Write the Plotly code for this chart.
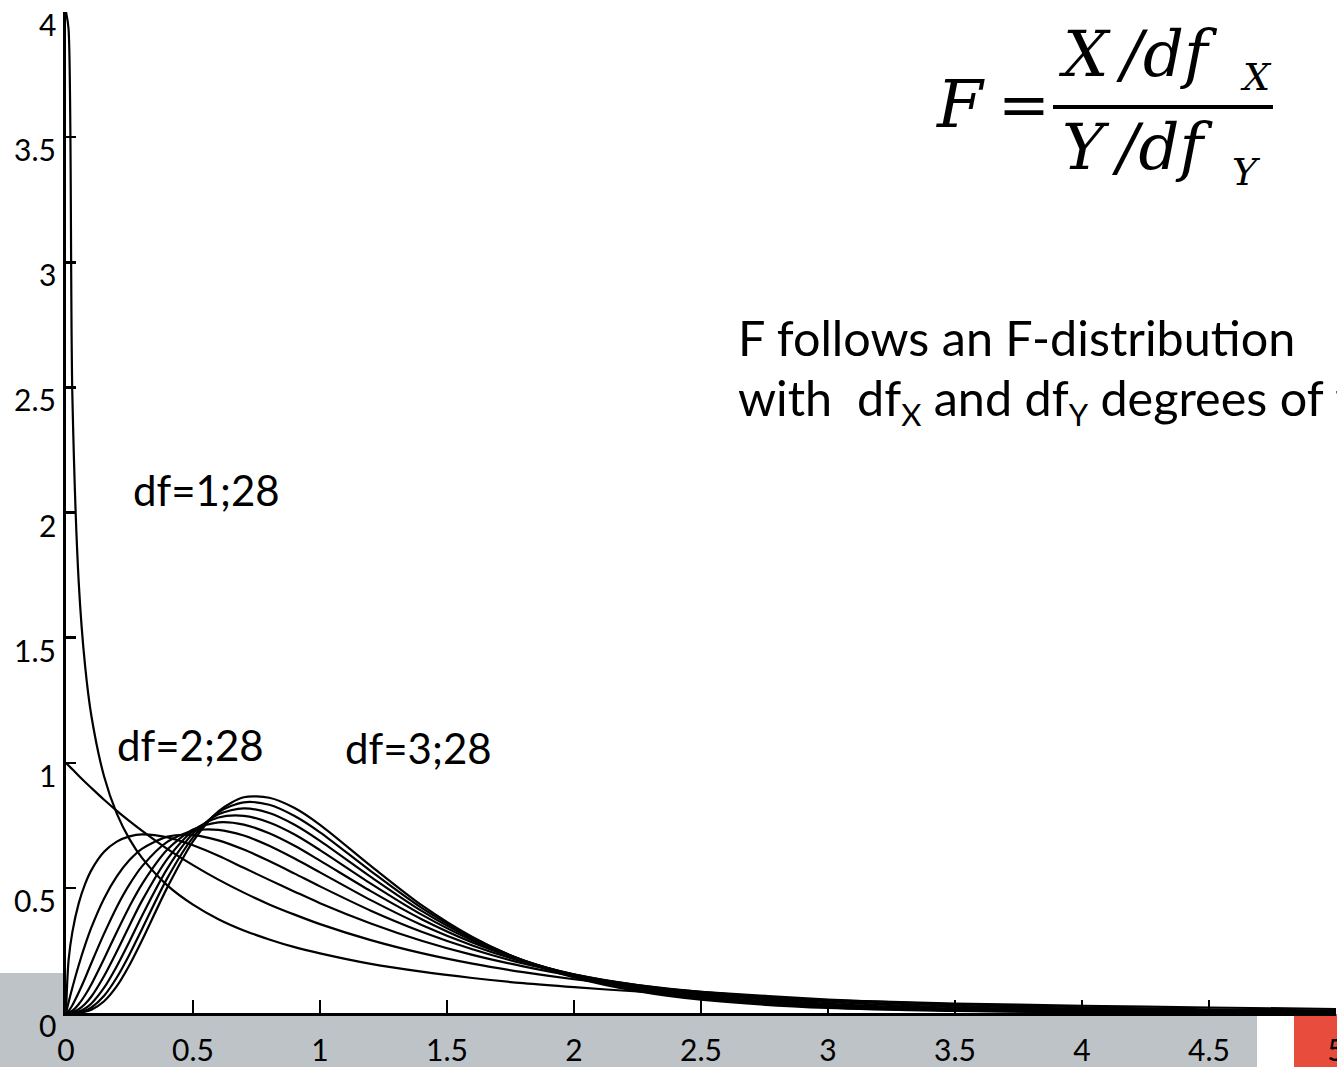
import plotly.graph_objects as go

# ---------------- data (F-distribution densities, df2 = 28) ----------------
X = [0, 0.01, 0.025, 0.05, 0.075, 0.1, 0.15, 0.2, 0.25, 0.3, 0.4, 0.5, 0.6, 0.7,
     0.8, 0.9, 1.0, 1.2, 1.4, 1.6, 1.8, 2.0, 2.25, 2.5, 3.0, 3.5, 4.0, 4.5, 5.0]

df1 = [4.0, 3.933, 2.469, 1.723, 1.389, 1.187, 0.945, 0.797, 0.695, 0.619, 0.509, 0.433, 0.375, 0.330,
       0.294, 0.263, 0.238, 0.196, 0.165, 0.140, 0.119, 0.103, 0.086, 0.072, 0.052, 0.038, 0.029, 0.022, 0.016]
df2 = [1.0, 0.989, 0.974, 0.948, 0.923, 0.899, 0.852, 0.808, 0.767, 0.728, 0.655, 0.591, 0.533, 0.481,
       0.434, 0.393, 0.355, 0.291, 0.239, 0.197, 0.163, 0.135, 0.107, 0.085, 0.054, 0.035, 0.023, 0.015, 0.010]
df3 = [0, 0.209, 0.323, 0.438, 0.515, 0.571, 0.644, 0.685, 0.706, 0.714, 0.702, 0.670, 0.628, 0.580,
       0.532, 0.485, 0.439, 0.358, 0.289, 0.232, 0.186, 0.148, 0.112, 0.085, 0.049, 0.029, 0.017, 0.010, 0.006]
df4 = [0, 0.042, 0.101, 0.191, 0.271, 0.342, 0.458, 0.546, 0.611, 0.657, 0.705, 0.711, 0.690, 0.653,
       0.607, 0.557, 0.506, 0.409, 0.325, 0.255, 0.198, 0.154, 0.112, 0.081, 0.043, 0.023, 0.012, 0.007, 0.004]
df5 = [0, 0.008, 0.031, 0.082, 0.139, 0.200, 0.317, 0.424, 0.514, 0.587, 0.685, 0.728, 0.732, 0.709,
       0.668, 0.617, 0.562, 0.451, 0.352, 0.270, 0.205, 0.155, 0.108, 0.076, 0.037, 0.018, 0.009, 0.005, 0.003]
df6 = [0, 0.002, 0.009, 0.035, 0.071, 0.115, 0.217, 0.324, 0.426, 0.516, 0.654, 0.733, 0.762, 0.753,
       0.718, 0.668, 0.609, 0.487, 0.375, 0.282, 0.209, 0.154, 0.104, 0.070, 0.032, 0.015, 0.007, 0.004, 0.002]
df7 = [0, 0.0003, 0.003, 0.015, 0.036, 0.066, 0.148, 0.246, 0.350, 0.450, 0.617, 0.728, 0.781, 0.788,
       0.761, 0.713, 0.651, 0.517, 0.393, 0.290, 0.211, 0.152, 0.100, 0.065, 0.028, 0.012, 0.006, 0.003, 0.001]
df8 = [0, 0.0001, 0.001, 0.006, 0.018, 0.038, 0.101, 0.187, 0.286, 0.390, 0.579, 0.717, 0.794, 0.818,
       0.799, 0.752, 0.688, 0.544, 0.408, 0.296, 0.211, 0.149, 0.095, 0.061, 0.025, 0.010, 0.005, 0.002, 0.001]
df9 = [0, 0, 0.0003, 0.003, 0.009, 0.022, 0.069, 0.142, 0.234, 0.337, 0.541, 0.702, 0.802, 0.842,
       0.832, 0.787, 0.722, 0.567, 0.420, 0.301, 0.210, 0.146, 0.091, 0.057, 0.022, 0.009, 0.004, 0.002, 0.001]
df10 = [0, 0, 0.0001, 0.001, 0.005, 0.013, 0.047, 0.107, 0.192, 0.292, 0.504, 0.686, 0.806, 0.862,
        0.860, 0.819, 0.752, 0.588, 0.431, 0.304, 0.209, 0.142, 0.087, 0.053, 0.020, 0.008, 0.003, 0.001, 0.001]

series_names = ["df=1;28", "df=2;28", "df=3;28", "df=4;28", "df=5;28",
                "df=6;28", "df=7;28", "df=8;28", "df=9;28", "df=10;28"]
series_values = [df1, df2, df3, df4, df5, df6, df7, df8, df9, df10]

x_tick_vals = [0, 0.5, 1, 1.5, 2, 2.5, 3, 3.5, 4, 4.5, 5]
x_tick_text = ["0", "0.5", "1", "1.5", "2", "2.5", "3", "3.5", "4", "4.5", "5"]
y_tick_vals = [0, 0.5, 1, 1.5, 2, 2.5, 3, 3.5, 4]
y_tick_text = ["0", "0.5", "1", "1.5", "2", "2.5", "3", "3.5", "4"]

curve_labels = ["df=1;28", "df=2;28", "df=3;28"]
text_line1 = "F follows an F-distribution"
text_line2 = ("with\u00a0\u00a0df<sub><span style='font-size:31px'>X</span></sub> and "
              "df<sub><span style='font-size:31px'>Y</span></sub> degrees of freedom")

# ---------------- layout helpers ----------------
W, H = 1337, 1067
ML, MR, MT, MB = 66, 1, 12, 54
PW = W - ML - MR
PH = H - MT - MB


def px(x):
    return (x - ML) / PW


def py(y):
    return (H - MB - y) / PH


FONT = "Lato, 'Open Sans', sans-serif"
SERIF = "'DejaVu Serif', serif"
GRAY = "#BDC3C7"
RED = "#E74C3C"

fig = go.Figure()
for name, vals in zip(series_names, series_values):
    fig.add_trace(go.Scatter(x=X, y=vals, mode="lines", name=name,
                             line=dict(color="black", width=2.2, shape="spline", smoothing=0.8),
                             hoverinfo="skip"))

shapes = [
    dict(type="rect", xref="paper", yref="paper", x0=px(0), x1=px(ML), y0=py(H), y1=py(973),
         fillcolor=GRAY, line=dict(width=0), layer="below"),
    dict(type="rect", xref="paper", yref="paper", x0=px(ML), x1=px(1257), y0=py(H), y1=py(1013),
         fillcolor=GRAY, line=dict(width=0), layer="below"),
    dict(type="rect", xref="paper", yref="paper", x0=px(1294), x1=px(W + 2), y0=py(H), y1=py(1014),
         fillcolor=RED, line=dict(width=0), layer="below"),
    # fraction bar of the formula
    dict(type="line", xref="paper", yref="paper", x0=px(1053), x1=px(1273), y0=py(107), y1=py(107),
         line=dict(color="black", width=4)),
]

ann = []
for v, t in zip(y_tick_vals, y_tick_text):
    ann.append(dict(x=px(58), xref="paper", y=v, yref="y", text=t, showarrow=False,
                    xanchor="right", yanchor="middle", yshift=-12,
                    font=dict(family=FONT, size=30, color="black")))

label_pos = [(131, 490), (115, 745), (343, 748)]
for t, (lx, ly) in zip(curve_labels, label_pos):
    ann.append(dict(x=px(lx), y=py(ly), xref="paper", yref="paper", text=t, showarrow=False,
                    xanchor="left", yanchor="middle", font=dict(family=FONT, size=42, color="black")))

ann.append(dict(x=px(736), y=py(337), xref="paper", yref="paper", text=text_line1, showarrow=False,
                xanchor="left", yanchor="middle", font=dict(family=FONT, size=48.5, color="black")))
ann.append(dict(x=px(736), y=py(400), xref="paper", yref="paper", text=text_line2, showarrow=False,
                xanchor="left", yanchor="middle", font=dict(family=FONT, size=48.5, color="black")))

# formula F = (X/df_X) / (Y/df_Y)
formula_parts = [
    ("<i>F</i>", 934, 104, 66),
    ("=", 996, 104, 62),
    ("<i>X\u2009/df</i>", 1056, 54, 64),
    ("<i>X</i>", 1238, 77, 38),
    ("<i>Y\u2009/df</i>", 1060, 147, 64),
    ("<i>Y</i>", 1230, 172, 38),
]
for t, fx, fy, fs in formula_parts:
    ann.append(dict(x=px(fx), y=py(fy), xref="paper", yref="paper", text=t, showarrow=False,
                    xanchor="left", yanchor="middle", font=dict(family=SERIF, size=fs, color="black")))

fig.update_layout(
    width=W, height=H,
    margin=dict(l=ML, r=MR, t=MT, b=MB, pad=0, autoexpand=False),
    paper_bgcolor="white", plot_bgcolor="white",
    showlegend=False,
    shapes=shapes,
    annotations=ann,
    xaxis=dict(range=[0, 5], tickmode="array", tickvals=x_tick_vals, ticktext=x_tick_text,
               ticks="inside", ticklen=13, tickwidth=2, tickcolor="black",
               showline=True, linecolor="black", linewidth=3, showgrid=False, zeroline=False,
               tickfont=dict(family=FONT, size=30, color="black"),
               ticklabelstandoff=9, ticklabeloverflow="allow", fixedrange=True),
    yaxis=dict(range=[0, 4], tickmode="array", tickvals=y_tick_vals,
               ticks="inside", ticklen=10, tickwidth=2.5, tickcolor="black",
               showline=True, linecolor="black", linewidth=3.5, showgrid=False, zeroline=False,
               showticklabels=False, fixedrange=True),
)

fig.write_html("out.html", config={"displayModeBar": False, "staticPlot": True},
               post_script="document.body.style.margin='0';document.body.style.overflow='hidden';")
